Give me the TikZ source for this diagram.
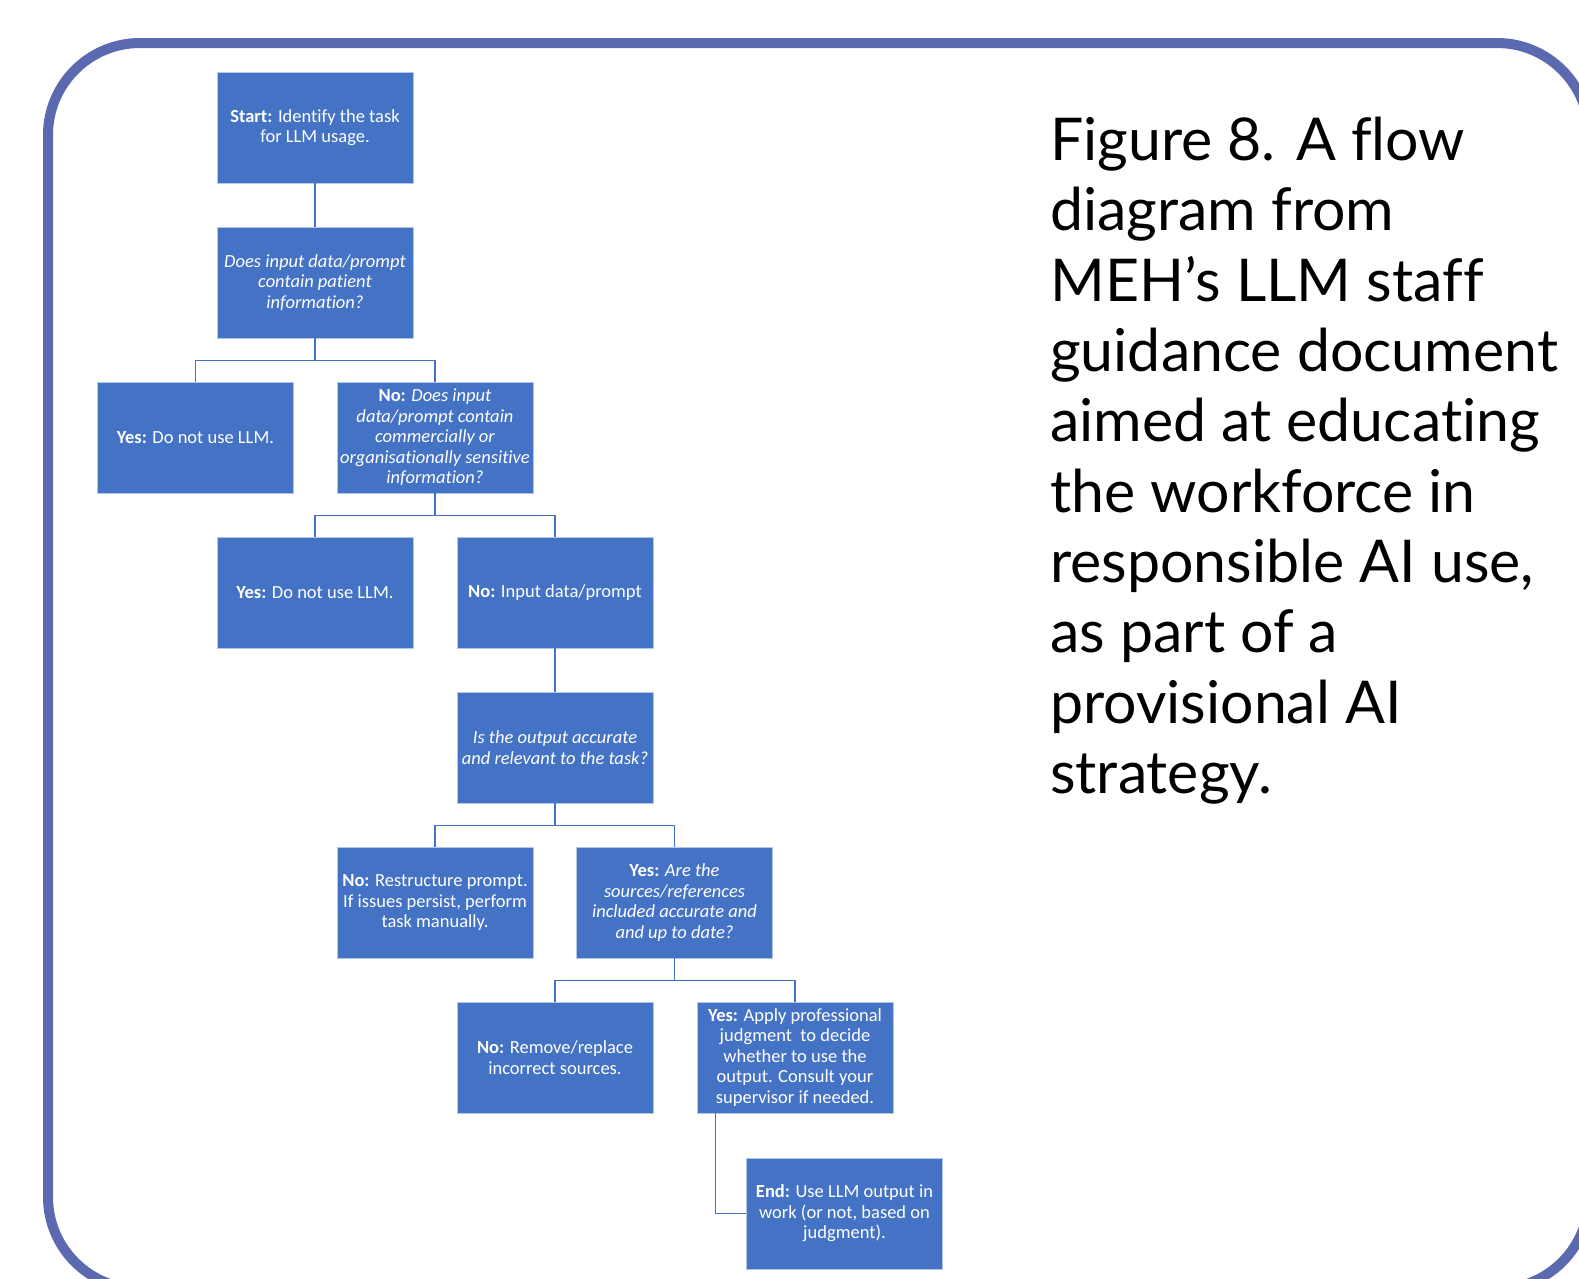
\documentclass[tikz,border=0pt]{standalone}
\usepackage{fontspec}
\setmainfont[Ligatures=NoCommon]{Carlito}
\newfontfamily\capfont[Ligatures=NoCommon]{Lato}
\usetikzlibrary{calc}

\definecolor{boxblue}{HTML}{4472C4}
\definecolor{boxedge}{HTML}{B4C7E7}
\definecolor{framecol}{HTML}{5B6AB0}
\definecolor{linkcol}{HTML}{4472C4}

\tikzset{
  flowbox/.style={rectangle, fill=boxblue, draw=boxedge, line width=0.8pt,
    minimum width=196pt, minimum height=111pt, inner sep=2pt,
    text=white, align=center,
    font=\fontsize{18.5}{20.5}\selectfont},
  askbox/.style={flowbox, font=\fontsize{18.5}{20.5}\selectfont\itshape},
  link/.style={draw=linkcol, line width=1.6pt},
  outerframe/.style={draw=framecol, line width=10pt, rounded corners=92pt},
  caption/.style={anchor=north west, inner sep=0pt, align=left, text=black,
    font=\capfont\fontsize{59}{70.3}\selectfont}
}
\newcommand{\lead}[1]{\textbf{\upshape #1}}

\begin{document}
\begin{tikzpicture}[x=1pt, y=-1pt]
  \useasboundingbox (0,0) rectangle (1579,1278);
  \clip (0,0) rectangle (1579,1278);

  % rounded outer frame, running off the right and bottom edges
  \draw[outerframe] (48,43) rectangle (1589,1289);

  % flow boxes
  \node[flowbox] (start) at (315,127.5) {\lead{Start:} Identify the task\\for LLM usage.};
  \node[askbox] (q1) at (315,282.5) {Does input data/prompt\\contain patient\\information?};
  \node[flowbox] (yes1) at (195.5,437.5) {\lead{Yes:} Do not use LLM.};
  \node[askbox] (no1) at (435,437.5) {\lead{No:} Does input\\data/prompt contain\\commercially or\\organisationally sensitive\\information?};
  \node[flowbox] (yes2) at (315,592.5) {\lead{Yes:} Do not use LLM.};
  \node[flowbox] (no2) at (555,592.5) {\lead{No:} Input data/prompt};
  \node[askbox] (q3) at (555,747.5) {Is the output accurate\\and relevant to the task?};
  \node[flowbox] (no3) at (435,902.5) {\lead{No:} Restructure prompt.\\If issues persist, perform\\task manually.};
  \node[askbox] (yes3) at (674.5,902.5) {\lead{Yes:} Are the\\sources/references\\included accurate and\\and up to date?};
  \node[flowbox] (no4) at (555,1057.5) {\lead{No:} Remove/replace\\incorrect sources.};
  \node[flowbox] (yes4) at (795,1057.5) {\lead{Yes:} Apply professional\\judgment~ to decide\\whether to use the\\output. Consult your\\supervisor if needed.};
  \node[flowbox] (end) at (844.5,1213.5) {\lead{End:} Use LLM output in\\work (or not, based on\\judgment).};

  % connectors
  \draw[link] (start.south) -- (q1.north);
  \draw[link] (q1.south) -- ++(0,22) -| (yes1.north);
  \draw[link] (q1.south) ++(0,22) -| (no1.north);
  \draw[link] (no1.south) -- ++(0,22) -| (yes2.north);
  \draw[link] (no1.south) ++(0,22) -| (no2.north);
  \draw[link] (no2.south) -- (q3.north);
  \draw[link] (q3.south) -- ++(0,22) -| (no3.north);
  \draw[link] (q3.south) ++(0,22) -| (yes3.north);
  \draw[link] (yes3.south) -- ++(0,22) -| (no4.north);
  \draw[link] (yes3.south) ++(0,22) -| (yes4.north);
  \draw[link] ($(yes4.south west)+(19,0)$) |- (end.west);

  % caption
  \node[caption] (cap) at (1050,117) {Figure 8. A flow\\diagram from\\MEH’s LLM staff\\guidance document\\aimed at educating\\the workforce in\\responsible AI use,\\as part of a\\provisional AI\\strategy.};
\end{tikzpicture}
\end{document}
